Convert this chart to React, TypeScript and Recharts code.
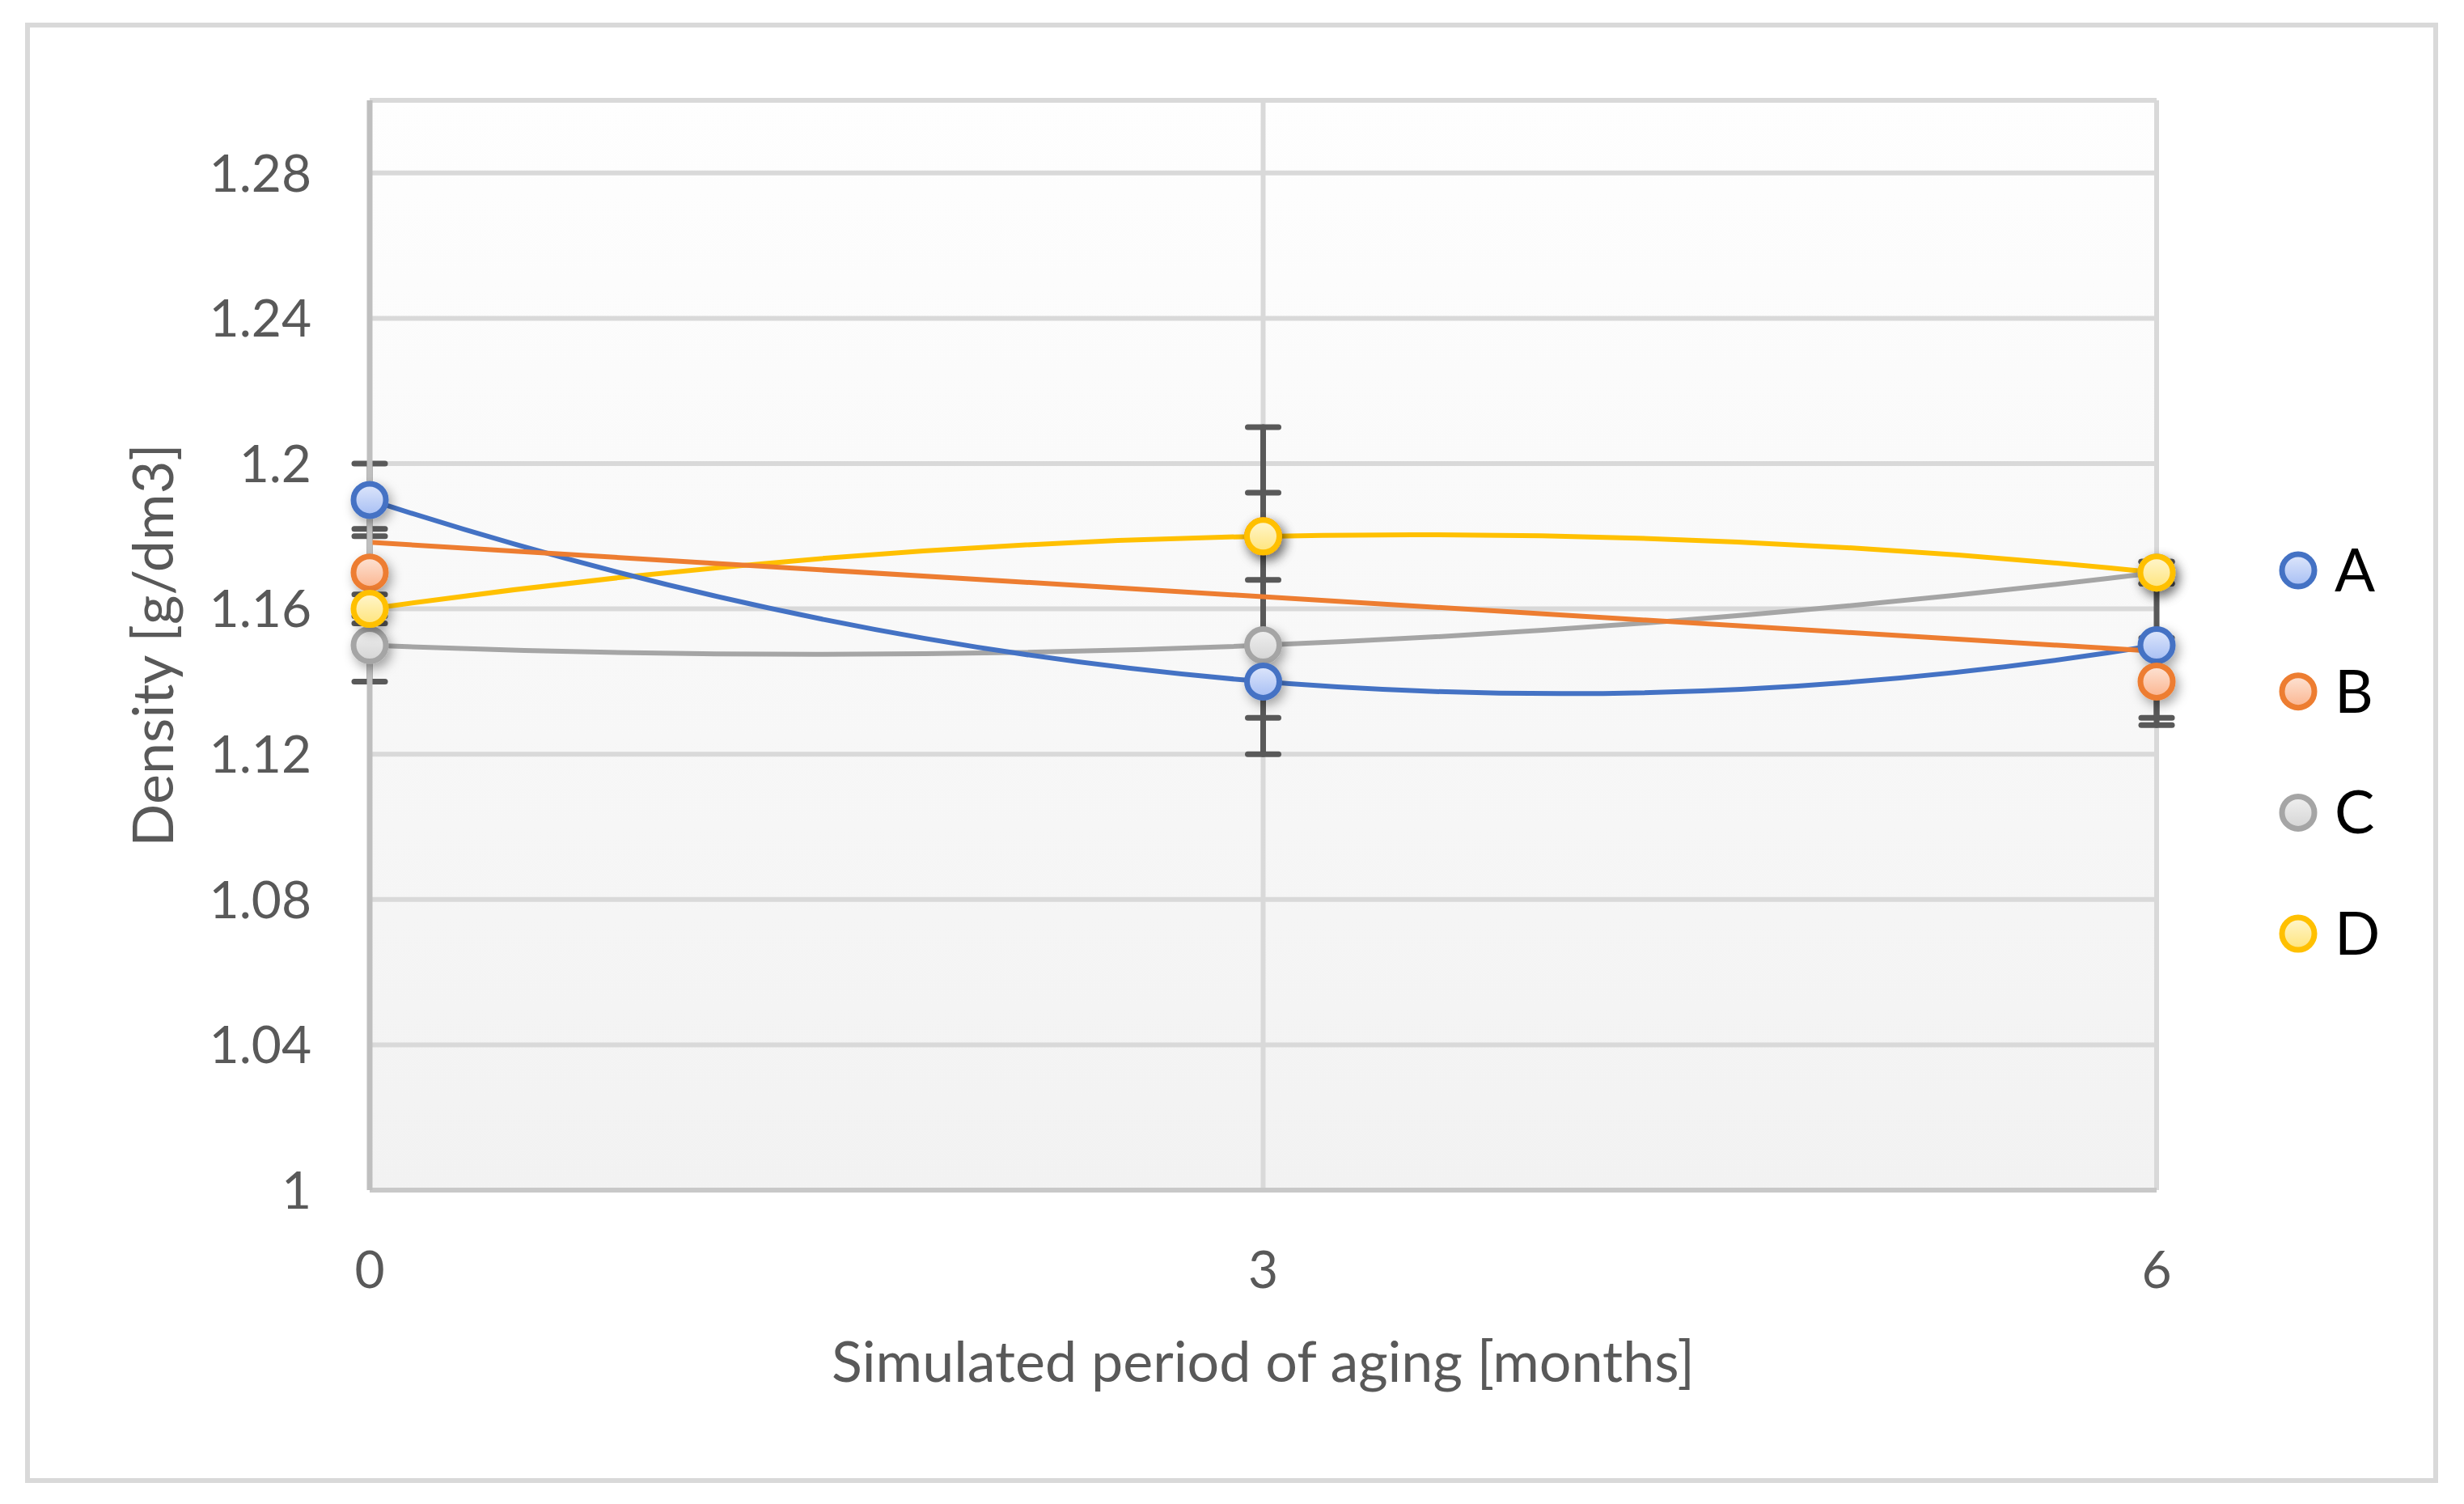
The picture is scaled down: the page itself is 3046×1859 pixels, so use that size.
import { ComposedChart, Line, XAxis, YAxis, CartesianGrid, ErrorBar } from "recharts";

const months = [0, 3, 6];
const densityA = [1.19, 1.14, 1.15];
const densityB = [1.17, 1.18, 1.14];
const densityC = [1.15, 1.15, 1.17];
const densityD = [1.16, 1.18, 1.17];
const errorA = [0.01, 0.01, 0.02];
const errorB = [0.012, 0.03, 0.012];
const errorC = [0.01, 0.03, 0.003];
const errorD = [0.004, 0.012, 0.003];
const xTicks = [0, 3, 6];
const yTicks = [1, 1.04, 1.08, 1.12, 1.16, 1.2, 1.24, 1.28];
const seriesNames = ["A", "B", "C", "D"];

const rows = months.map((m, i) => ({
  month: m,
  A: densityA[i],
  B: densityB[i],
  C: densityC[i],
  D: densityD[i],
  errA: errorA[i],
  errB: errorB[i],
  errC: errorC[i],
  errD: errorD[i],
}));

const COLORS: Record<string, string> = {
  A: "#4472C4",
  B: "#ED7D31",
  C: "#A5A5A5",
  D: "#FFC000",
};

const FILLS: Record<string, [string, string]> = {
  A: ["#dfe7fb", "#a6bef4"],
  B: ["#fde4d6", "#fbb48e"],
  C: ["#f0f0f0", "#d4d4d4"],
  D: ["#fff6cf", "#ffe47a"],
};

const FONT = "Lato, 'Open Sans', sans-serif";
const TEXT = "#595959";

// least squares polynomial (degree 1 or 2) in pixel space; linear scales keep the fit
function solve(m: number[][], v: number[]): number[] {
  const n = v.length;
  const a = m.map((r, i) => [...r, v[i]]);
  for (let c = 0; c < n; c++) {
    let p = c;
    for (let r = c + 1; r < n; r++) if (Math.abs(a[r][c]) > Math.abs(a[p][c])) p = r;
    [a[c], a[p]] = [a[p], a[c]];
    for (let r = 0; r < n; r++) {
      if (r === c) continue;
      const k = a[r][c] / a[c][c];
      for (let j = c; j <= n; j++) a[r][j] -= k * a[c][j];
    }
  }
  return a.map((r, i) => r[n] / r[i]);
}

function trend(degree: 1 | 2) {
  return (context: any) => {
    let pts: number[][] = [];
    return {
      areaStart() {},
      areaEnd() {},
      lineStart() {
        pts = [];
      },
      point(x: number, y: number) {
        pts.push([+x, +y]);
      },
      lineEnd() {
        if (pts.length < 2) return;
        const x0 = pts[0][0];
        const x1 = pts[pts.length - 1][0];
        const n = degree + 1;
        const m = Array.from({ length: n }, () => new Array(n).fill(0));
        const v = new Array(n).fill(0);
        pts.forEach(([x, y]) => {
          const u = x - x0;
          for (let i = 0; i < n; i++) {
            v[i] += y * Math.pow(u, i);
            for (let j = 0; j < n; j++) m[i][j] += Math.pow(u, i + j);
          }
        });
        const c = solve(m, v);
        const c2 = degree === 2 ? c[2] : 0;
        const f = (u: number) => c[0] + c[1] * u + c2 * u * u;
        const w = x1 - x0;
        context.moveTo(x0, f(0));
        if (degree === 1) context.lineTo(x1, f(w));
        else context.quadraticCurveTo(x0 + w / 2, f(0) + (c[1] * w) / 2, x1, f(w));
      },
    };
  };
}

const TREND_TYPE: Record<string, any> = {
  A: trend(2),
  B: trend(1),
  C: trend(2),
  D: trend(2),
};

function markerDot(name: string) {
  return (p: any) => (
    <circle
      key={`${name}-dot-${p.index}`}
      cx={p.cx}
      cy={p.cy}
      r={20}
      fill={`url(#fill${name})`}
      stroke={COLORS[name]}
      strokeWidth={7}
      filter="url(#dotShadow)"
    />
  );
}

function YTitle(props: any) {
  const { y, height } = props.viewBox;
  return (
    <text
      transform={`translate(214 ${y + height / 2}) rotate(-90)`}
      textAnchor="middle"
      fill={TEXT}
      fontSize={70}
      fontFamily={FONT}
    >
      Density [g/dm3]
    </text>
  );
}

function XTitle(props: any) {
  const { x, width } = props.viewBox;
  return (
    <text x={x + width / 2} y={1708} textAnchor="middle" fill={TEXT} fontSize={70} fontFamily={FONT}>
      Simulated period of aging [months]
    </text>
  );
}

function LegendBox() {
  return (
    <svg
      width={260}
      height={580}
      style={{ position: "absolute", left: 2790, top: 650 }}
    >
      <defs>
        {seriesNames.map((s) => (
          <linearGradient key={s} id={`lg${s}`} x1="0" y1="0" x2="0" y2="1">
            <stop offset="0%" stopColor={FILLS[s][0]} />
            <stop offset="100%" stopColor={FILLS[s][1]} />
          </linearGradient>
        ))}
      </defs>
      {seriesNames.map((s, i) => (
        <g key={s}>
          <circle cx={51} cy={55 + i * 149.7} r={20} fill={`url(#lg${s})`} stroke={COLORS[s]} strokeWidth={7} />
          <text x={96} y={55 + i * 149.7 + 26} fontSize={74} fontFamily={FONT} fill="#000">
            {s}
          </text>
        </g>
      ))}
    </svg>
  );
}

export default function App() {
  return (
    <div style={{ position: "absolute", left: 0, top: 0, width: 3046, height: 1859, background: "#fff" }}>
      <div
        style={{
          position: "absolute",
          left: 31,
          top: 28,
          width: 2983,
          height: 1805,
          border: "6px solid #d9d9d9",
          boxSizing: "border-box",
        }}
      />
      <div style={{ position: "absolute", left: 0, top: 0 }}>
        <ComposedChart width={3046} height={1859} data={rows} margin={{ top: 124, right: 380, bottom: 0, left: 0 }}>
          <defs>
            <linearGradient id="plotBg" x1="0" y1="0" x2="0" y2="1">
              <stop offset="0%" stopColor="#fefefe" />
              <stop offset="100%" stopColor="#f2f2f2" />
            </linearGradient>
            {seriesNames.map((s) => (
              <linearGradient key={s} id={`fill${s}`} x1="0" y1="0" x2="0" y2="1">
                <stop offset="0%" stopColor={FILLS[s][0]} />
                <stop offset="100%" stopColor={FILLS[s][1]} />
              </linearGradient>
            ))}
            <filter id="dotShadow" x="-60%" y="-60%" width="220%" height="220%">
              <feDropShadow dx={4} dy={6} stdDeviation={7} floodColor="#000" floodOpacity={0.35} />
            </filter>
          </defs>
          <CartesianGrid fill="url(#plotBg)" fillOpacity={1} stroke="#d9d9d9" strokeWidth={6} />
          <XAxis
            type="number"
            dataKey="month"
            domain={[0, 6]}
            ticks={xTicks}
            height={388}
            tickSize={0}
            tickMargin={76}
            tickLine={false}
            axisLine={{ stroke: "#c8c8c8", strokeWidth: 6 }}
            tick={{ fill: TEXT, fontSize: 64, fontFamily: FONT }}
            label={<XTitle />}
          />
          <YAxis
            type="number"
            domain={[1, 1.3]}
            ticks={yTicks}
            width={457}
            tickSize={0}
            tickMargin={72}
            tickLine={false}
            axisLine={{ stroke: "#bfbfbf", strokeWidth: 7 }}
            tick={{ fill: TEXT, fontSize: 64, fontFamily: FONT }}
            label={<YTitle />}
          />
          {seriesNames.map((s) => (
            <Line
              key={`err-${s}`}
              dataKey={s}
              stroke="none"
              dot={false}
              activeDot={false}
              legendType="none"
              isAnimationActive={false}
            >
              <ErrorBar
                dataKey={`err${s}`}
                direction="y"
                width={19}
                stroke="#595959"
                strokeWidth={7}
                strokeLinecap="round"
                isAnimationActive={false}
              />
            </Line>
          ))}
          {["C", "A", "B", "D"].map((s) => (
            <Line
              key={`dots-${s}`}
              dataKey={s}
              stroke="none"
              dot={markerDot(s)}
              activeDot={false}
              legendType="none"
              isAnimationActive={false}
            />
          ))}
          {["D", "C", "A", "B"].map((s) => (
            <Line
              key={`trend-${s}`}
              dataKey={s}
              type={TREND_TYPE[s]}
              stroke={COLORS[s]}
              strokeWidth={6}
              dot={false}
              activeDot={false}
              legendType="none"
              isAnimationActive={false}
            />
          ))}
        </ComposedChart>
      </div>
      <LegendBox />
    </div>
  );
}
